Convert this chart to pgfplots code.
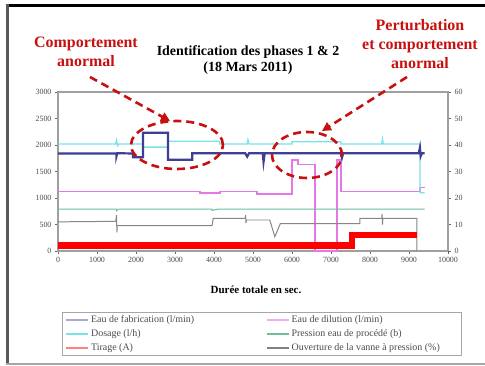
\documentclass[border=0pt]{standalone}
\usepackage{pgfplots}
\pgfplotsset{compat=1.18}
\usepackage{fontspec}
\setmainfont{Liberation Serif}
\usetikzlibrary{arrows.meta}
\definecolor{navyb}{RGB}{62,62,150}
\definecolor{cyanl}{RGB}{120,228,232}
\definecolor{pinkm}{RGB}{228,120,228}
\definecolor{greens}{RGB}{110,190,155}
\definecolor{grayl}{RGB}{135,135,135}
\definecolor{annot}{RGB}{200,16,16}
\pgfplotsset{
  myax/.style={scale only axis, width=390bp, height=159bp,
    at={(58bp,-251bp)}, anchor=south west,
    xmin=0, xmax=10000,
    tick label style={font=\fontsize{8}{9}\selectfont, text=black!70},
    /pgf/number format/assume math mode=true,
    /pgf/number format/1000 sep={},
    scaled ticks=false,
    axis line style={gray!75, line width=1.2pt},
    tick style={gray!80!black, line width=0.6pt},
    tick align=outside, major tick length=3bp,
    clip=false}
}
\begin{document}
\begin{tikzpicture}
\path[use as bounding box] (0,0) rectangle (485bp,-366bp);
\fill[white] (0,0) rectangle (485bp,-366bp);
% outer frame
\draw[black, line width=3bp] (6bp,-5bp) -- (485bp,-5bp);
\draw[gray!70!black, line width=3bp] (7bp,-4bp) -- (7bp,-364bp);
\draw[gray!70, line width=1.5bp] (6bp,-364bp) -- (485bp,-364bp);

\begin{axis}[myax,
  ymin=0, ymax=3000, ytick={0,500,...,3000},
  xtick={0,1000,...,10000},
  xtick pos=bottom, ytick pos=left]
\addplot[pinkm, line width=1.6pt, forget plot] coordinates {
(0,1120)(3640,1120)(3640,1090)(4150,1090)(4150,1120)(5100,1120)(5100,1070)(6000,1070)
(6000,1720)(6150,1720)(6150,1630)(6590,1630)(6590,0)(7150,0)(7150,1720)(7260,1720)
(7260,1120)(9280,1120)(9280,1200)(9400,1200)};
\addplot[cyanl, line width=1.3pt, forget plot] coordinates {
(0,2020)(1480,2020)(1500,2090)(1530,1990)(1560,2020)(2180,2020)(2180,1960)(2820,1960)
(2820,2070)(4150,2070)(4150,2020)(4850,2020)(4870,2100)(4900,2020)(6000,2020)(6000,2060)
(7250,2060)(7250,2020)(8300,2020)(8320,2110)(8340,2020)(9280,2020)(9280,1100)(9400,1100)};
\addplot[navyb, line width=2.2pt, forget plot] coordinates {
(0,1840)(1500,1840)(1500,1790)(1520,1845)(1920,1840)(1920,1770)(2180,1770)(2180,2230)
(2820,2230)(2820,1720)(3440,1720)(3440,1845)(4800,1845)(4850,1780)(4900,1845)(5250,1845)
(5270,1680)(5300,1845)(7250,1845)(7280,1760)(7310,1845)(9250,1845)(9280,1950)(9300,1790)
(9330,1845)(9400,1845)};
\end{axis}

\begin{axis}[myax,
  ymin=0, ymax=60, ytick={0,10,...,60},
  axis y line*=right, axis x line=none,
  legend columns=2, legend cell align=left,
  legend image code/.code={\draw[#1] (0bp,0bp) -- (22bp,0bp);},
  legend style={at={(rel axis cs:0.0103,-0.385)}, anchor=north west,
    draw=gray!70, line width=1.2pt, font=\fontsize{10}{11}\selectfont,
    text=black!70, inner xsep=3bp, inner ysep=1bp, row sep=1.5bp,
    /tikz/every even column/.append style={column sep=3bp}}]
\addplot[greens, line width=1pt, forget plot] coordinates {
(0,15.8)(1500,15.8)(1500,15.2)(1550,15.8)(3950,15.8)(3950,15.3)(4100,15.8)(9400,15.8)};
\addplot[grayl, line width=1pt, forget plot] coordinates {
(0,11.0)(1480,11.2)(1500,13.5)(1510,7.0)(1520,9.6)(3950,9.6)(3980,12.3)(4800,12.3)
(4810,13.5)(4820,10.5)(4830,11.7)(5430,11.7)(5560,5.4)(5700,10.3)(7740,10.3)(7740,12.3)
(8300,12.3)(8310,14)(8320,10)(8330,12.3)(9200,12.3)(9200,0)};
\addplot[red, line width=6.5bp, forget plot] coordinates {
(0,2.1)(7540,2.1)(7540,6)(9200,6)};
\addlegendimage{navyb!45, line width=1.5pt}
\addlegendentry{\makebox[170bp][l]{Eau de fabrication (l/min)}}
\addlegendimage{pinkm!60, line width=1.5pt}
\addlegendentry{\makebox[165bp][l]{Eau de dilution (l/min)}}
\addlegendimage{cyanl, line width=1.5pt}
\addlegendentry{Dosage (l/h)}
\addlegendimage{greens, line width=1.5pt}
\addlegendentry{Pression eau de procédé (b)}
\addlegendimage{red!50, line width=1.5pt}
\addlegendentry{Tirage (A)}
\addlegendimage{gray, line width=1.5pt}
\addlegendentry{Ouverture de la vanne à pression (\%)}
\end{axis}

% title and axis label
\node[font=\bfseries\fontsize{14}{16}\selectfont, align=center] at (248bp,-60bp)
  {Identification des phases 1 \& 2\\(18 Mars 2011)};
\node[font=\bfseries\fontsize{11}{12}\selectfont] at (256bp,-290bp) {Durée totale en sec.};

% annotations
\begin{scope}[annot, line width=2.6bp, dash pattern=on 8bp off 5bp]
\draw (177bp,-145bp) ellipse [x radius=46bp, y radius=24bp];
\draw (307bp,-155bp) ellipse [x radius=35bp, y radius=23bp];
\draw[-{Triangle[length=9bp,width=9bp]}] (90bp,-77bp) -- (170bp,-121bp);
\draw[-{Triangle[length=9bp,width=9bp]}] (407bp,-77bp) -- (322bp,-131bp);
\end{scope}
\node[annot, font=\bfseries\fontsize{16}{19.5}\selectfont, align=center] at (86bp,-52bp)
  {Comportement\\anormal};
\node[annot, font=\bfseries\fontsize{16}{19}\selectfont, align=center] at (420bp,-44bp)
  {Perturbation\\et comportement\\anormal};
\end{tikzpicture}
\end{document}
